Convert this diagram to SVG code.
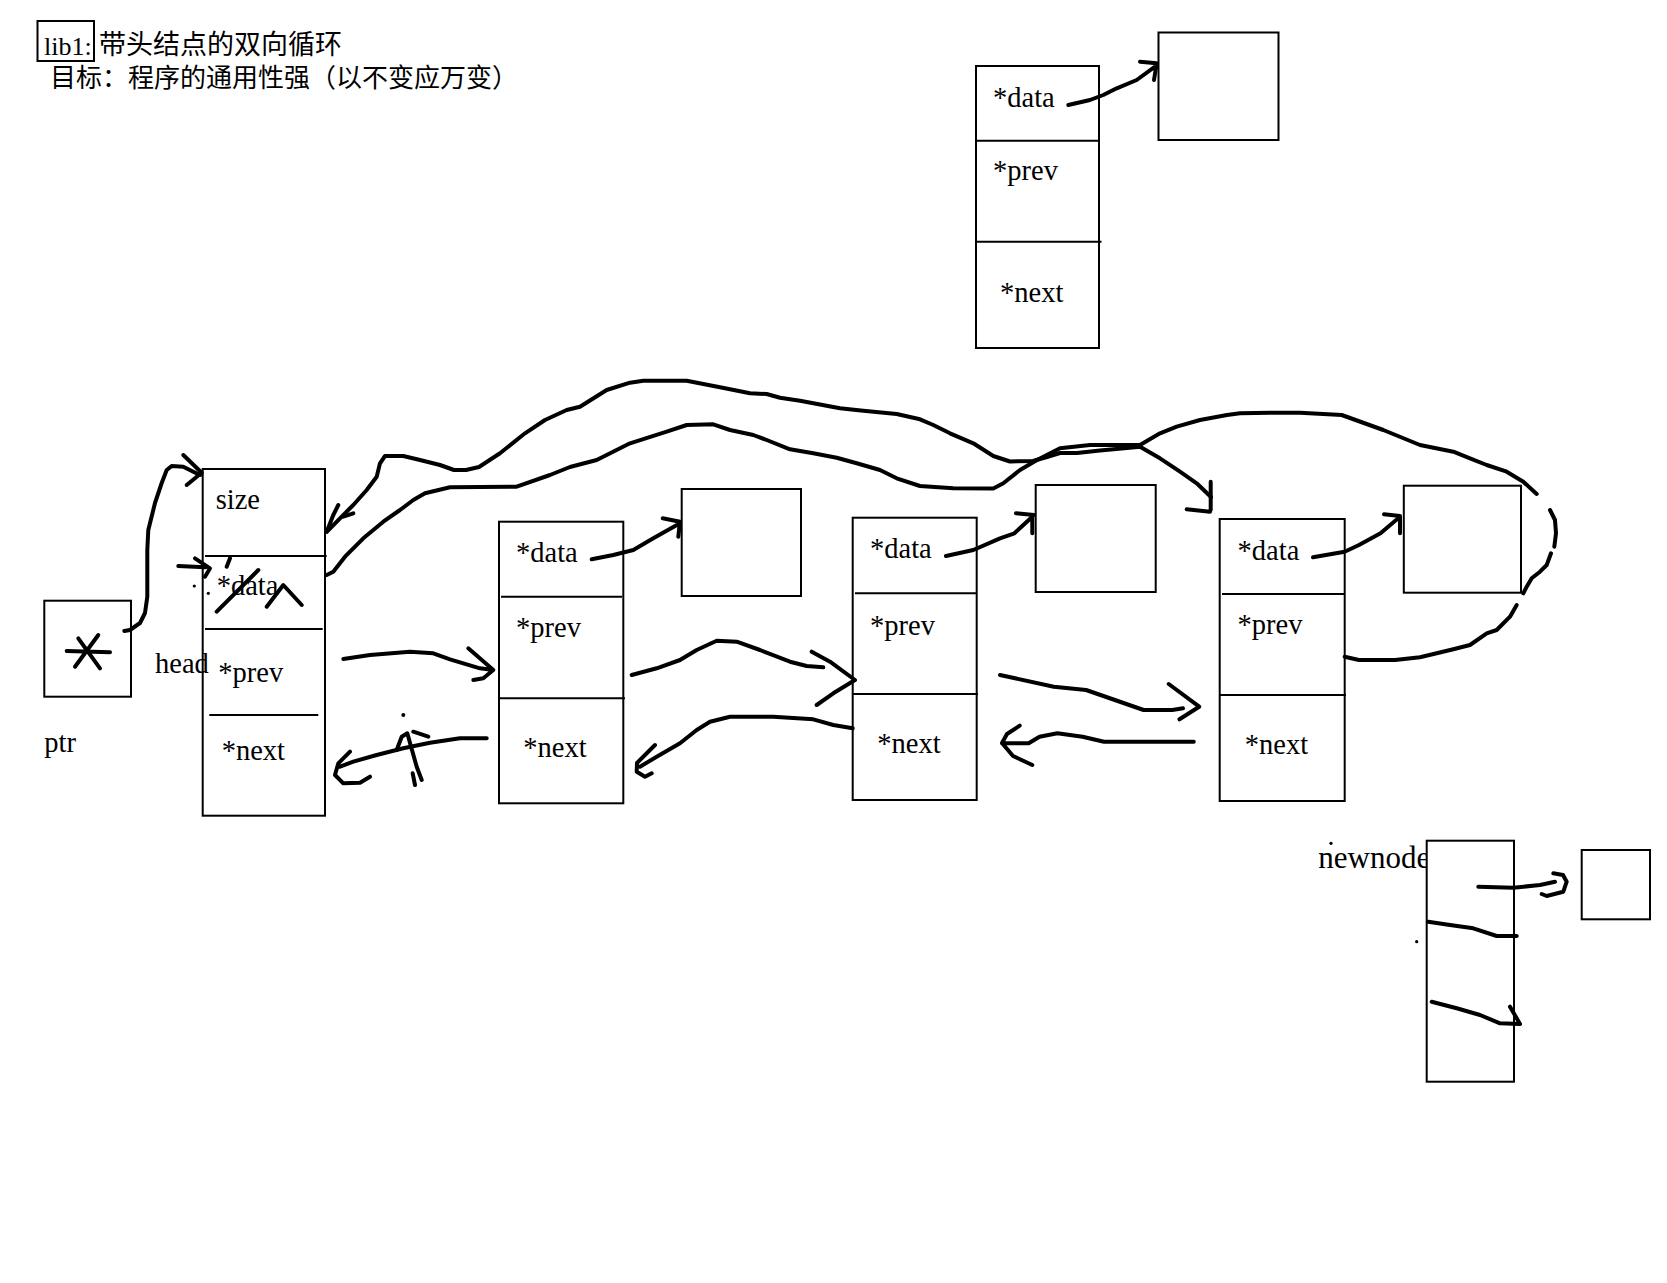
<svg xmlns="http://www.w3.org/2000/svg" width="1667" height="1283" viewBox="0 0 1667 1283">
<style>
.box{fill:#fff;stroke:#000;stroke-width:2}
.open{fill:none;stroke:#000;stroke-width:2}
.div{stroke:#000;stroke-width:2}
.lbl{font-family:"Liberation Serif","DejaVu Serif",serif;font-size:28.5px;fill:#000}
.ink{fill:none;stroke:#000;stroke-width:4;stroke-linecap:round;stroke-linejoin:round}
.dot{fill:#000}
.cjk{font-family:"Noto Sans CJK SC","Noto Sans CJK TC",sans-serif;fill:#000}
</style>
<rect width="1667" height="1283" fill="#fff"/>

<g id="title">
<rect class="open" x="37.5" y="21" width="56.5" height="40"/>
<text x="44" y="55" font-family="Liberation Serif, serif" font-size="26">lib1:</text>
<text x="99" y="54" class="cjk" font-size="27">带头结点的双向循环</text>
<text x="50" y="87" class="cjk" font-size="26">目标：程序的通用性强（以不变应万变）</text>
</g>

<g id="node-top">
<rect class="box" x="976" y="66" width="123" height="282"/>
<line class="div" x1="976" y1="140.7" x2="1099" y2="140.7"/>
<line class="div" x1="976" y1="241.7" x2="1101.5" y2="241.7"/>
<text class="lbl" x="993" y="107">*data</text>
<text class="lbl" x="993" y="180">*prev</text>
<text class="lbl" x="1000" y="301.5">*next</text>
</g>
<g id="data-top"><rect class="box" x="1158.5" y="32.5" width="120" height="107.5"/></g>

<g id="ptr">
<rect class="box" x="44.3" y="600.7" width="86.7" height="96"/>
<path class="ink" d="M66.7,651 L110,652.3 M78.3,638.3 L100,668.3 M98.3,635 L75,666.7"/>
<text class="lbl" x="44.3" y="751.7">ptr</text>
</g>

<g id="head">
<rect class="box" x="202.7" y="469" width="122.3" height="346.7"/>
<line class="div" x1="205" y1="556" x2="326.7" y2="556"/>
<line class="div" x1="205" y1="629" x2="322.7" y2="629"/>
<line class="div" x1="209.3" y1="715" x2="318.3" y2="715"/>
<text class="lbl" x="215.7" y="509.3">size</text>
<text class="lbl" x="216.7" y="595">*data</text>
<text class="lbl" x="155" y="673.3">head</text>
<text class="lbl" x="218.3" y="681.7">*prev</text>
<text class="lbl" x="221.7" y="760">*next</text>
<path class="ink" d="M216.7,611.7 L258.3,570 M226.7,566.7 L230,558.3 M266.7,606.7 L283.3,585 L301.7,605"/>
<circle class="dot" cx="194.3" cy="586" r="1.6"/>
<circle class="dot" cx="208.3" cy="593.3" r="1.6"/>
</g>

<g id="node1">
<rect class="box" x="499" y="521.7" width="124.3" height="281.6"/>
<line class="div" x1="501" y1="596.7" x2="622" y2="596.7"/>
<line class="div" x1="499" y1="698.3" x2="625" y2="698.3"/>
<text class="lbl" x="516" y="561.7">*data</text>
<text class="lbl" x="516" y="636.7">*prev</text>
<text class="lbl" x="523.3" y="756.7">*next</text>
</g>
<g id="data1"><rect class="box" x="681.7" y="489" width="119.3" height="107"/></g>

<g id="node2">
<rect class="box" x="852.7" y="517.7" width="124" height="282.3"/>
<line class="div" x1="855" y1="593.3" x2="976.7" y2="593.3"/>
<line class="div" x1="852.7" y1="694" x2="978" y2="694"/>
<text class="lbl" x="870" y="558.3">*data</text>
<text class="lbl" x="870" y="635">*prev</text>
<text class="lbl" x="877.3" y="753.3">*next</text>
</g>
<g id="data2"><rect class="box" x="1035.7" y="485" width="120" height="107"/></g>

<g id="node3">
<rect class="box" x="1219.7" y="519" width="125" height="282"/>
<line class="div" x1="1222" y1="594" x2="1344.6" y2="594"/>
<line class="div" x1="1219.7" y1="695" x2="1346" y2="695"/>
<text class="lbl" x="1237.6" y="560">*data</text>
<text class="lbl" x="1237.6" y="634">*prev</text>
<text class="lbl" x="1244.8" y="754">*next</text>
</g>
<g id="data3"><rect class="box" x="1403.8" y="485.7" width="117.2" height="107"/></g>

<g id="newnode">
<text class="lbl" x="1318.3" y="868.3" style="font-size:31px">newnode</text>
<rect class="box" x="1426.7" y="840.7" width="87.3" height="241"/>
<circle class="dot" cx="1331" cy="843.3" r="1.6"/>
<circle class="dot" cx="1416.7" cy="941.7" r="1.6"/>
</g>
<g id="newdata"><rect class="box" x="1581.7" y="850" width="68.3" height="69.3"/></g>

<g id="connectors">
<path class="ink" d="M124.3,631 L130,630 L140,623 L145,613 L147.3,596.7 L147.3,550 L148.3,530 L155,503 L161.7,483 L166.7,470 L171.7,466 L183.3,466.7 L193.3,471.7 L200,475"/>
<path class="ink" d="M183.3,455 L201.7,472.7 L186.7,485"/>
<path class="ink" d="M178.3,566 L205,567.3 M195,558.3 L210,568.3 L205,576.7"/>

<path class="ink" d="M327,531.7 L340,518.3 L353.3,505 L366.7,490 L376.7,476.7 L380,463.3 L385,456 L403.3,456 L420,460 L440,465 L454,470 L466,470 L479,467 L500,453.3 L525,433.3 L545,420 L566.7,410 L580,406.7 L606.7,390 L630,382.7 L643.3,380.7 L686.7,380.7 L720,387.3 L750,393.3 L766.7,394 L780,397.7 L800,400.7 L813.3,403.3 L840,408.3 L863.3,410.7 L896.7,414 L920,419.3 L933.3,425 L950,433.3 L973.3,443.3 L993.3,456 L1010,461.5 L1033,461 L1047,457 L1060,453 L1077,453 L1100,450.5 L1127,448 L1140,446.7 L1160,458.3 L1180,471.7 L1196.7,483.3 L1211,497"/>
<path class="ink" d="M338.3,505 L333.3,515 L326.7,531.7 M343.3,516.7 L353.3,513.3"/>
<path class="ink" d="M1210.7,481.7 L1210.7,510 M1186.7,509.3 L1210,511.7"/>

<path class="ink" d="M326.7,575 L333.3,571.7 L345,556.7 L363.3,538.3 L383.3,521.7 L400,510 L413.3,500 L425,493.3 L450,487.3 L480,487 L516.7,486.7 L550,475 L570,467 L596.7,460 L630,443.3 L666.7,431.7 L686.7,425 L713.3,424.3 L730,430 L753.3,435 L766.7,440 L790,449.3 L813.3,453.3 L836.7,457.7 L856.7,463.3 L880,470 L896.7,478.3 L920,486 L953.3,488.3 L993.3,488.5 L1003.3,483.3 L1020,470 L1037,460 L1060,448.3 L1090,445 L1127,445 L1140,445 L1160,433.3 L1176.7,426.7 L1200,420 L1227,415 L1240,413.3 L1270,412.7 L1300,412.7 L1341.7,415 L1383.3,430 L1420,445 L1453.3,451.7 L1470,458.3 L1486.7,465 L1506.7,471.7 L1523.3,481.7 L1536.7,494"/>
<path class="ink" d="M1550,510 L1555,520 L1556,533.3 L1554.3,546.7"/>
<path class="ink" d="M1551,553.3 L1546.7,565 L1540,571.7 L1531.7,578.3 L1526.7,586.7 L1523.3,593.3"/>
<path class="ink" d="M1516.7,605 L1510,616.7 L1496.7,630 L1486.7,633.3 L1470,645 L1453.3,649.3 L1436.7,653.3 L1420,657.3 L1395,660 L1359,660 L1344.6,656.7"/>

<path class="ink" d="M1068.3,105 L1090,100 L1103.3,95 L1116.7,88.3 L1136.7,80 L1155,66.7 M1140,61.7 L1156.7,63.3 L1154,80"/>
<path class="ink" d="M591.7,559.3 L613.3,555 L633.3,550 L653.3,538.3 L680,523.3 M662.7,518.3 L680,521.7 L678.3,536.7"/>
<path class="ink" d="M946,556 L973.3,550 L1000,538.3 L1014.4,533.3 L1032.3,516.7 M1016,513.3 L1034,515 M1032.3,516.7 L1032.3,533.3"/>
<path class="ink" d="M1313,557.3 L1344.6,551.7 L1359,545 L1380.5,533.3 L1400,516.7 M1384,514.3 L1400,516 L1400,533.3"/>

<path class="ink" d="M343.3,659 L370,655 L410,651.7 L433.3,653.3 L450,659.3 L463.3,663.3 L480,668.3 L493.3,670 M468.3,648.3 L493.3,670 L483.3,678.3 L473.3,680"/>
<path class="ink" d="M486.7,738.3 L460,738.3 L430,742.7 L403.3,748.3 L376.7,755 L353.3,761.7 L340,766.7 M350,751.7 L338.3,763.3 L335,775 L343.3,783.3 L360,782.7 L370,776.7"/>
<circle class="dot" cx="403.3" cy="715" r="2"/>
<path class="ink" d="M396.7,750 L401.7,736.7 L407.3,733.3 L416.7,766.7 L421.7,780 M413.3,731.7 L428.3,736.7 M412.7,773.3 L415,785"/>

<path class="ink" d="M631.7,675 L656.7,668.3 L680,660 L696.7,650 L716.7,640.7 L736.7,641.7 L760,650 L790,661.7 L806.7,666 L823.3,667.3 M811.7,651.7 L830,661.7 L855,680 L833.3,693.3 L816.7,705"/>
<path class="ink" d="M852.7,728.3 L833.3,725 L813.3,719.3 L773.3,716.7 L730,716.7 L710,721.7 L696.7,730 L680,743.3 L656.7,756.7 L640,766.7 M655,745 L637,763 L636.7,771.7 L645,776.7 L651.7,773.3"/>

<path class="ink" d="M1000,675 L1053.8,686.7 L1086.1,690 L1114.9,700 L1143.6,710 L1172.3,710 L1183,708.3 M1168.7,684 L1199.2,706.7 L1179.5,719.3"/>
<path class="ink" d="M1193.8,741.7 L1158,741.7 L1104,741.7 L1082.6,736.7 L1057.4,733.3 L1039.5,736.7 L1028.7,743.3 L1002,743.3 M1019.7,725.7 L1007,734 L1002,743 L1013,756 L1032.3,765"/>

<path class="ink" d="M1478.3,886.7 L1513.3,887.7 L1540,885 L1555,881.7 M1553.3,873.3 L1563,875 L1566.7,881.7 L1563.3,891.7 L1546.7,896 L1541.7,894"/>
<path class="ink" d="M1428.3,921.7 L1450,925 L1473.3,928.3 L1496.7,936 L1516.7,936"/>
<path class="ink" d="M1431.7,1001.7 L1456.7,1008.3 L1480,1015 L1500,1023.3 L1520,1024 M1510,1006.7 L1520,1024"/>
</g>
</svg>
